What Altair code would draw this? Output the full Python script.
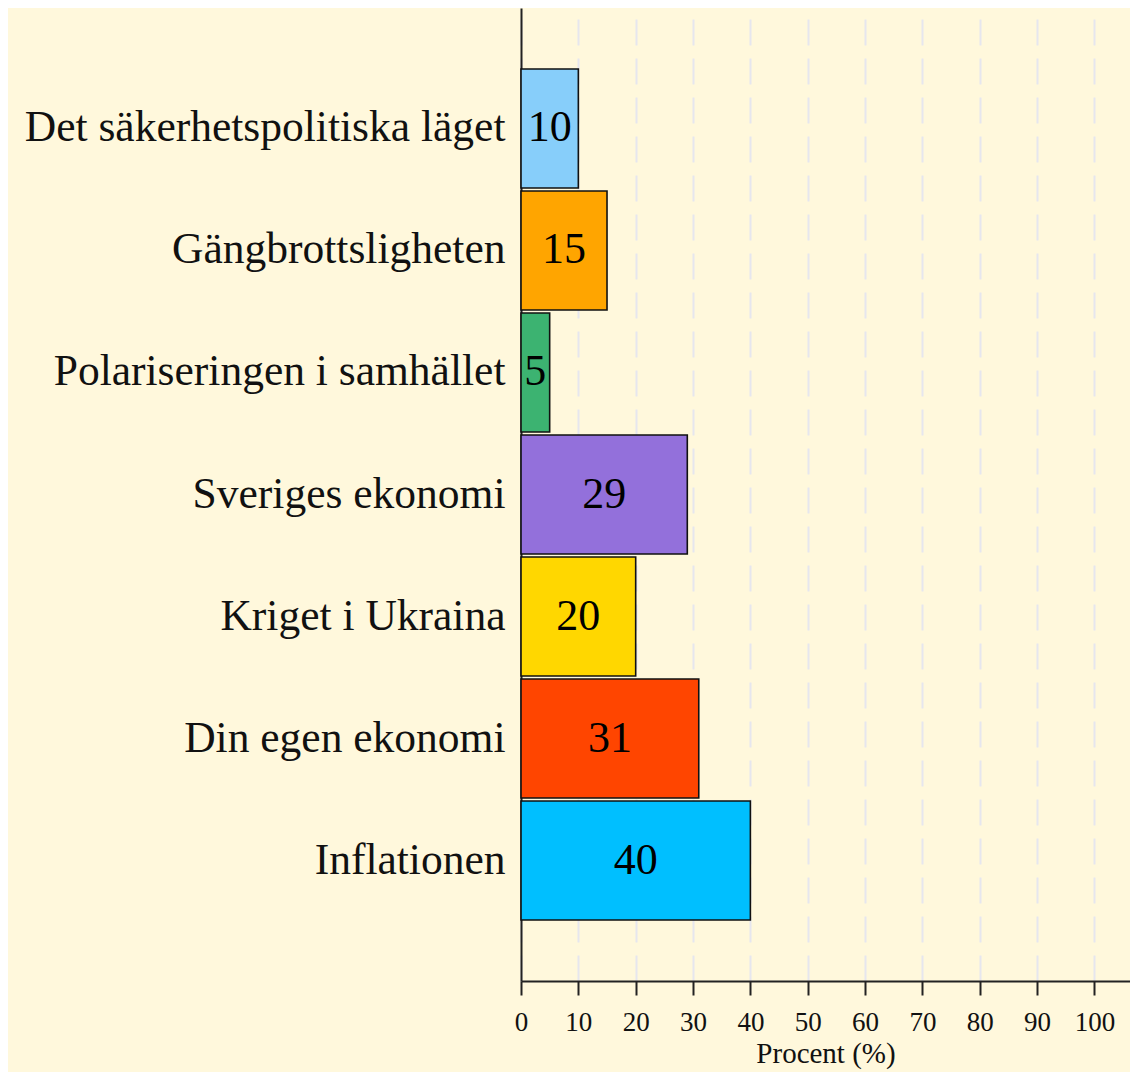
import altair as alt
import pandas as pd

categories = [
    "Det säkerhetspolitiska läget",
    "Gängbrottsligheten",
    "Polariseringen i samhället",
    "Sveriges ekonomi",
    "Kriget i Ukraina",
    "Din egen ekonomi",
    "Inflationen",
]
values = [10, 15, 5, 29, 20, 31, 40]
colors = ["#87CEFA", "#FFA500", "#3CB371", "#9370DB", "#FFD700", "#FF4500", "#00BFFF"]
x_ticks = [0, 10, 20, 30, 40, 50, 60, 70, 80, 90, 100]

df = pd.DataFrame({"kategori": categories, "procent": values, "farg": colors})

FONT = "Liberation Serif"

y_enc = alt.Y(
    "kategori:N",
    sort=categories,
    scale=alt.Scale(paddingInner=0.025, paddingOuter=0.5),
    axis=alt.Axis(
        title=None,
        ticks=False,
        labelFont=FONT,
        labelFontSize=43.5,
        labelColor="#111111",
        labelPadding=16,
        labelLimit=0,
        domainColor="#222222",
        domainWidth=2,
        grid=False,
    ),
)

x_scale = alt.Scale(domain=[0, 106.2], nice=False, zero=True)

bars = alt.Chart(df).mark_bar(stroke="#111111", strokeWidth=1.6).encode(
    x=alt.X(
        "procent:Q",
        scale=x_scale,
        axis=alt.Axis(
            title="Procent (%)",
            titleFont=FONT,
            titleFontSize=29,
            titleFontWeight="normal",
            titleColor="#111111",
            titlePadding=4,
            values=x_ticks,
            labelFont=FONT,
            labelFontSize=27,
            labelColor="#111111",
            labelPadding=14,
            labelFlush=False,
            tickSize=14,
            tickWidth=2,
            tickColor="#222222",
            domainColor="#222222",
            domainWidth=2,
            grid=True,
            gridColor="#e6e6ee",
            gridWidth=2,
            gridDash=[26, 13],
        ),
    ),
    y=y_enc,
    color=alt.Color("farg:N", scale=None, legend=None),
)

labels = alt.Chart(df).transform_calculate(
    mitt="datum.procent / 2"
).mark_text(font=FONT, fontSize=44, color="#000000", baseline="middle", align="center").encode(
    x=alt.X("mitt:Q", scale=x_scale),
    y=alt.Y("kategori:N", sort=categories),
    text=alt.Text("procent:Q"),
)

chart = alt.layer(bars, labels).properties(
    width=609,
    height=973,
    background="#FFF8DC",
    autosize=alt.AutoSizeParams(type="none"),
    padding={"left": 513, "top": 0, "right": 0, "bottom": 91},
).configure_view(stroke=None)

chart.save("out.html", embed_options={"renderer": "svg", "actions": False})
